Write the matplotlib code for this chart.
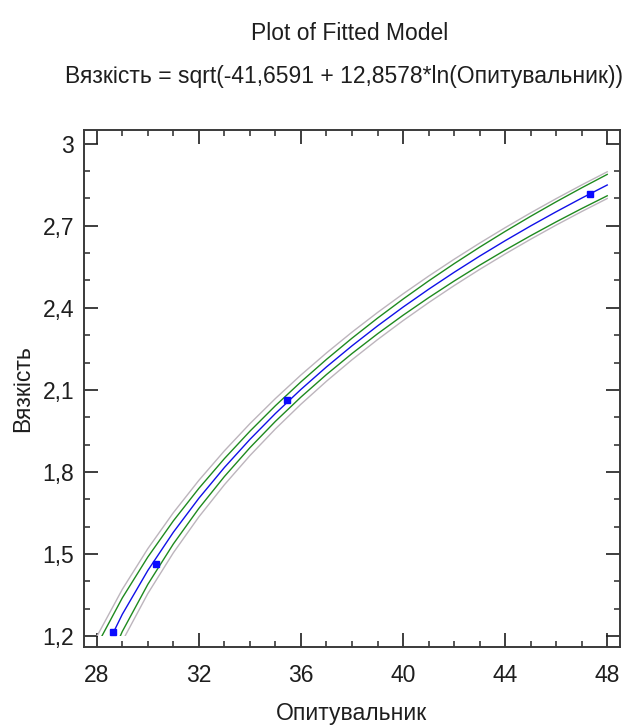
import matplotlib
matplotlib.use("Agg")
from matplotlib import pyplot as plt
from matplotlib.patches import Rectangle
from matplotlib.ticker import FixedLocator, MultipleLocator

plt.rcParams['font.family'] = ['Liberation Sans', 'DejaVu Sans']

# observed points
obs_x = [28.63, 30.31, 35.44, 47.31]
obs_y = [1.215, 1.464, 2.063, 2.816]

# curves
curve_x = [28, 29, 30, 31, 32, 33, 34, 35, 36, 37, 38,
           39, 40, 41, 42, 43, 44, 45, 46, 47, 48]
fit_y = [1.0889, 1.2794, 1.4397, 1.5794, 1.7037, 1.8161, 1.9189, 2.0137, 2.1017, 2.1839, 2.2610,
         2.3337, 2.4025, 2.4676, 2.5296, 2.5888, 2.6452, 2.6993, 2.7511, 2.8010, 2.8489]
conf_hi = [1.1650, 1.3393, 1.4889, 1.6210, 1.7399, 1.8486, 1.9488, 2.0421, 2.1293, 2.2114, 2.2889,
           2.3622, 2.4318, 2.4981, 2.5612, 2.6215, 2.6792, 2.7345, 2.7876, 2.8386, 2.8877]
conf_lo = [1.0071, 1.2166, 1.3889, 1.5366, 1.6667, 1.7831, 1.8885, 1.9849, 2.0737, 2.1560, 2.2328,
           2.3049, 2.3727, 2.4368, 2.4977, 2.5556, 2.6108, 2.6636, 2.7142, 2.7628, 2.8095]
pred_hi = [1.1980, 1.3707, 1.5194, 1.6509, 1.7692, 1.8771, 1.9764, 2.0684, 2.1544, 2.2350, 2.3110,
           2.3828, 2.4509, 2.5157, 2.5774, 2.6364, 2.6929, 2.7471, 2.7991, 2.8491, 2.8973]
pred_lo = [0.9676, 1.1811, 1.3553, 1.5044, 1.6356, 1.7530, 1.8596, 1.9573, 2.0476, 2.1315, 2.2100,
           2.2836, 2.3530, 2.4187, 2.4810, 2.5402, 2.5967, 2.6507, 2.7024, 2.7519, 2.7995]

x_ticks = [28, 32, 36, 40, 44, 48]
y_ticks = [1.2, 1.5, 1.8, 2.1, 2.4, 2.7, 3.0]
y_labels = ['1,2', '1,5', '1,8', '2,1', '2,4', '2,7', '3']

title = "Plot of Fitted Model"
subtitle = "Вязкість = sqrt(-41,6591 + 12,8578*ln(Опитувальник))"

fs = 16.5
txt_color = '#1e1e1e'

fig = plt.figure(figsize=(6.34, 7.25), dpi=100)
ax = fig.add_axes([0.1325, 0.1076, 0.8454, 0.7131])

clip = Rectangle((27.5, 1.2), 21, 2, transform=ax.transData)
lines = []
lines += ax.plot(curve_x, pred_hi, color='#bdb5bd', lw=1.0)
lines += ax.plot(curve_x, pred_lo, color='#bdb5bd', lw=1.0)
lines += ax.plot(curve_x, conf_hi, color='#1f8a1f', lw=1.0)
lines += ax.plot(curve_x, conf_lo, color='#1f8a1f', lw=1.0)
lines += ax.plot(curve_x, fit_y, color='#1010e8', lw=1.0)
for ln in lines:
    ln.set_clip_path(clip)
ax.plot(obs_x, obs_y, 's', color='#0a0aff', markersize=4.5, zorder=5)

ax.set_xlim(27.5, 48.5)
ax.set_ylim(1.16, 3.05)
ax.xaxis.set_major_locator(FixedLocator(x_ticks))
ax.xaxis.set_minor_locator(MultipleLocator(1))
ax.yaxis.set_major_locator(FixedLocator(y_ticks))
ax.yaxis.set_minor_locator(MultipleLocator(0.1))
ax.set_yticklabels(y_labels)

for sp in ax.spines.values():
    sp.set_color('#3a3a3a')
    sp.set_linewidth(1.4)
ax.tick_params(which='both', direction='in', top=True, right=True, color='#3a3a3a', width=1.2)
ax.tick_params(which='major', length=10, labelsize=fs, colors=txt_color)
ax.tick_params(which='minor', length=4.5)
ax.tick_params(axis='x', which='major', pad=12)
ax.tick_params(axis='y', which='major', pad=7)

ax.set_xlabel("Опитувальник", fontsize=fs, color=txt_color, va='baseline')
ax.set_ylabel("Вязкість", fontsize=fs, color=txt_color)
ax.xaxis.set_label_coords(0.5, (647 - 720) / 517)
ax.yaxis.set_label_coords(-0.093, 0.5)

fig.text(350 / 634, 1 - 33 / 725, title, ha='center', va='center', fontsize=fs, color=txt_color)
fig.text(344 / 634, 1 - 76 / 725, subtitle, ha='center', va='center', fontsize=fs, color=txt_color)

fig.savefig('out.png', dpi=100)
